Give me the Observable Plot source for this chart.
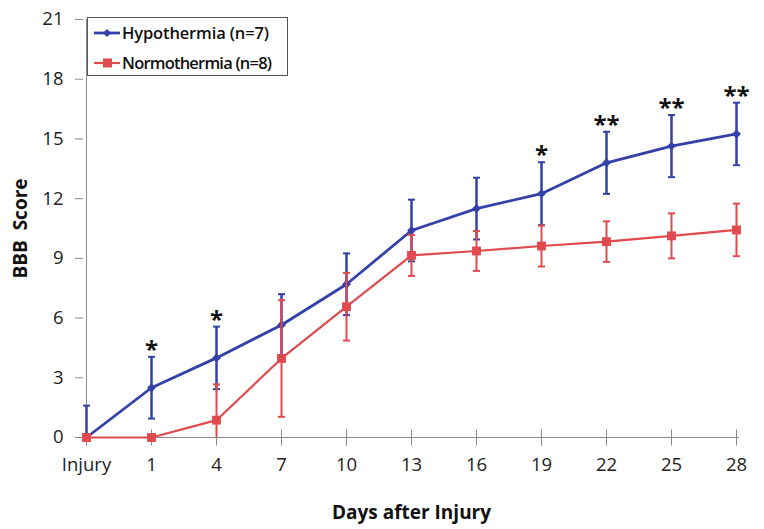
<!DOCTYPE html>
<html><head><meta charset="utf-8">
<script src="https://cdn.jsdelivr.net/npm/d3@7"></script>
<script src="https://cdn.jsdelivr.net/npm/@observablehq/plot@0.6"></script>
<style>
body{margin:0;background:#fff}
#wrap{position:relative;width:764px;height:529px}
#legend{position:absolute;left:87px;top:17px;width:201px;height:59px;border:1px solid #555;background:#fff;box-sizing:border-box}
</style>
</head><body><div id="wrap"></div>
<script>
const days = ["Injury","1","4","7","10","13","16","19","22","25","28"];
const hypoMean = [0,2.5,4.0,5.65,7.7,10.4,11.5,12.25,13.8,14.64,15.25];
const hypoSE = [1.6,1.55,1.57,1.55,1.55,1.55,1.55,1.58,1.56,1.56,1.57];
const normoMean = [0,0,0.87,3.97,6.57,9.15,9.37,9.62,9.84,10.13,10.43];
const normoSE = [0,0,1.8,2.93,1.7,1.03,1.0,1.03,1.02,1.13,1.32];
const sigLabels = ["","*","*","","","","","*","**","**","**"];
const yTicks = [0,3,6,9,12,15,18,21];
const seriesNames = ["Hypothermia (n=7)","Normothermia (n=8)"];

const BLUE = "#3441A8", RED = "#E04A4E", AXIS = "#8a8a8a";

const hypo = days.map((d,i)=>({day:d, m:hypoMean[i], se:hypoSE[i], sig:sigLabels[i]}));
const normo = days.map((d,i)=>({day:d, m:normoMean[i], se:normoSE[i]}));

const capSym = {draw(ctx, size){const r=Math.sqrt(size/Math.PI); ctx.moveTo(-r,0); ctx.lineTo(r,0);}};
const vTickSym = {draw(ctx, size){const r=Math.sqrt(size/Math.PI); ctx.moveTo(0,-r); ctx.lineTo(0,r);}};

function errMarks(data, color, w){
  const withErr = data.filter(d=>d.se>0);
  return [
    Plot.ruleX(withErr, {x:"day", y1:d=>Math.max(0,d.m-d.se), y2:d=>d.m+d.se, stroke:color, strokeWidth:w}),
    Plot.dot(withErr, {x:"day", y:d=>d.m+d.se, symbol:capSym, r:3.5, stroke:color, strokeWidth:2}),
    Plot.dot(withErr.filter(d=>d.m-d.se>0), {x:"day", y:d=>d.m-d.se, symbol:capSym, r:3.5, stroke:color, strokeWidth:2})
  ];
}

const chart = Plot.plot({
  width:764, height:529,
  marginLeft:83, marginRight:25, marginTop:19, marginBottom:92,
  style:{fontFamily:"'Open Sans', sans-serif", fontSize:"18.5px", color:"#222", background:"#fff"},
  x:{type:"point", domain:days, padding:0},
  y:{domain:[0,21]},
  marks:[
    Plot.ruleX([days[0]], {stroke:AXIS, strokeWidth:1}),
    Plot.ruleY([0], {stroke:AXIS, strokeWidth:1}),
    Plot.dot(days, {x:d=>d, y:()=>0, symbol:vTickSym, r:8, stroke:AXIS, strokeWidth:1}),
    Plot.axisY({ticks:yTicks, tickSize:8, tickPadding:12, stroke:AXIS, label:null, fill:"#222"}),
    Plot.axisX({tickSize:0, tickPadding:20, label:null, fill:"#222"}),
    ...errMarks(hypo, BLUE, 2.5),
    Plot.line(hypo, {x:"day", y:"m", stroke:BLUE, strokeWidth:2.8}),
    Plot.dot(hypo, {x:"day", y:"m", symbol:"diamond2", r:4, fill:BLUE}),
    ...errMarks(normo, RED, 2),
    Plot.line(normo, {x:"day", y:"m", stroke:RED, strokeWidth:2.2}),
    Plot.dot(normo, {x:"day", y:"m", symbol:"square", r:5, fill:RED}),
    Plot.text(hypo.filter(d=>d.sig), {x:"day", y:d=>d.m+d.se, text:"sig", dy:1, fontSize:24, fontWeight:"bold", lineAnchor:"bottom", fill:"#111", letterSpacing:"2px"}),
    Plot.text(["Days after Injury"], {frameAnchor:"bottom", dy:75, fontSize:19, fontWeight:"bold", lineAnchor:"middle", fill:"#111"}),
    Plot.text(["BBB  Score"], {frameAnchor:"left", dx:-63, rotate:-90, textAnchor:"middle", fontSize:19, fontWeight:"bold", lineAnchor:"middle", fill:"#111"})
  ]
});
const wrap = document.getElementById("wrap");
wrap.appendChild(chart);

// legend
const lg = document.createElement("div");
lg.id = "legend";
const colors = [BLUE, RED];
let svg = `<svg width="201" height="59" style="font-family:'Open Sans',sans-serif">`;
seriesNames.forEach((n,i)=>{
  const cy = 15 + i*30;
  svg += `<line x1="6" x2="32" y1="${cy}" y2="${cy}" stroke="${colors[i]}" stroke-width="${i?2.2:2.8}"/>`;
  if (i===0) svg += `<path d="M19,${cy-4}L23,${cy}L19,${cy+4}L15,${cy}Z" fill="${colors[i]}"/>`;
  else svg += `<rect x="15" y="${cy-4.5}" width="9" height="9" fill="${colors[i]}"/>`;
  svg += `<text x="34" y="${cy}" dy="0.36em" font-size="16.5" font-weight="600" fill="#111" textLength="${i?150:147}">${n}</text>`;
});
svg += `</svg>`;
lg.innerHTML = svg;
wrap.appendChild(lg);
</script>
</body></html>
